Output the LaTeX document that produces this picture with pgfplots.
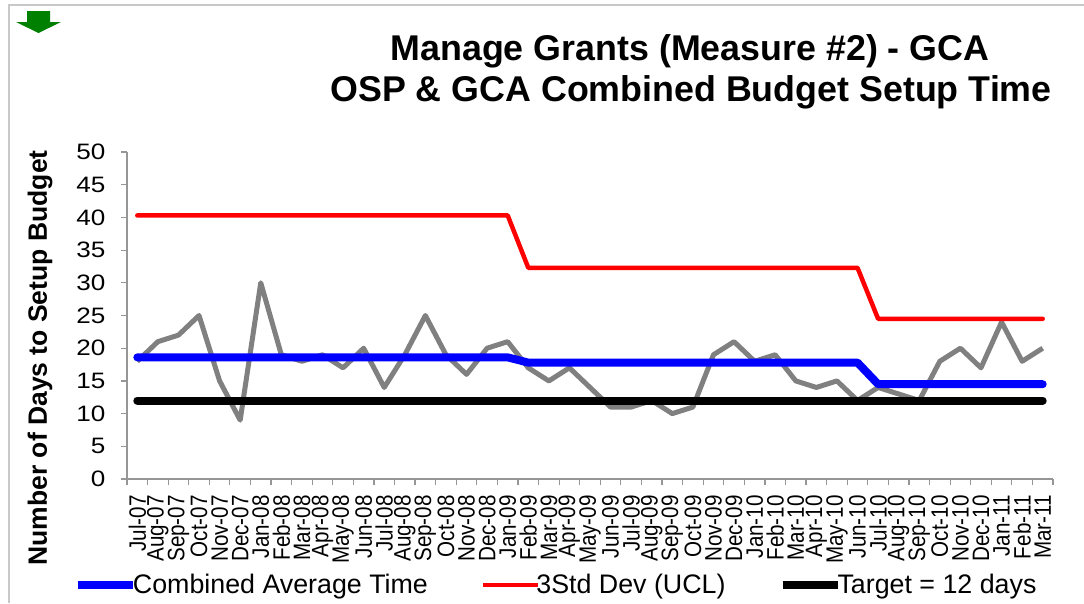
\documentclass[border=0pt]{standalone}
\usepackage{pgfplots}
\pgfplotsset{compat=1.18}
\usepackage{pgfplotstable}
\usepackage{fontspec}
\setmainfont{Liberation Sans}
\newfontfamily\ytickfont{Liberation Sans}[FakeStretch=1.17]
\newfontfamily\xtickfont{Liberation Sans}[FakeStretch=0.87]
\definecolor{cgray}{RGB}{128,128,128}
\definecolor{cgreen}{RGB}{0,128,0}
\definecolor{caxis}{RGB}{150,150,150}
\pgfplotstableread{
x g b r t
0 18 18.6 40.3 12
1 21 18.6 40.3 12
2 22 18.6 40.3 12
3 25 18.6 40.3 12
4 15 18.6 40.3 12
5 9 18.6 40.3 12
6 30 18.6 40.3 12
7 19 18.6 40.3 12
8 18 18.6 40.3 12
9 19 18.6 40.3 12
10 17 18.6 40.3 12
11 20 18.6 40.3 12
12 14 18.6 40.3 12
13 19 18.6 40.3 12
14 25 18.6 40.3 12
15 19 18.6 40.3 12
16 16 18.6 40.3 12
17 20 18.6 40.3 12
18 21 18.6 40.3 12
19 17 17.8 32.3 12
20 15 17.8 32.3 12
21 17 17.8 32.3 12
22 14 17.8 32.3 12
23 11 17.8 32.3 12
24 11 17.8 32.3 12
25 12 17.8 32.3 12
26 10 17.8 32.3 12
27 11 17.8 32.3 12
28 19 17.8 32.3 12
29 21 17.8 32.3 12
30 18 17.8 32.3 12
31 19 17.8 32.3 12
32 15 17.8 32.3 12
33 14 17.8 32.3 12
34 15 17.8 32.3 12
35 12 17.8 32.3 12
36 14 14.5 24.5 12
37 13 14.5 24.5 12
38 12 14.5 24.5 12
39 18 14.5 24.5 12
40 20 14.5 24.5 12
41 17 14.5 24.5 12
42 24 14.5 24.5 12
43 18 14.5 24.5 12
44 20 14.5 24.5 12
}\data
\begin{document}
\begin{tikzpicture}
\useasboundingbox (0pt,0pt) rectangle (1084pt,-603pt);
\draw[color={rgb,255:red,200;green,200;blue,200}, line width=1.5pt] (9pt,-603pt) -- (9pt,-5pt) -- (1084pt,-5pt);
\fill[cgreen] (27pt,-11pt) -- (50pt,-11pt) -- (50pt,-22pt) -- (61pt,-22pt) -- (38.5pt,-33pt) -- (16pt,-22pt) -- (27pt,-22pt) -- cycle;
\node[anchor=base, font=\fontsize{35.8}{40}\selectfont\bfseries] at (690pt,-60pt) {Manage Grants (Measure \#2) - GCA};
\node[anchor=base, font=\fontsize{35.8}{40}\selectfont\bfseries] at (691pt,-101pt) {OSP \& GCA Combined Budget Setup Time};
\node[rotate=90, font=\fontsize{26.5}{30}\selectfont\bfseries] at (40pt,-358pt) {Number of Days to Setup Budget};
\begin{axis}[
  at={(127pt,-479pt)}, anchor=south west,
  scale only axis, width=926pt, height=327pt,
  xmin=-0.5, xmax=44.5, ymin=0, ymax=50,
  axis x line*=bottom, axis y line*=left,
  axis line style={caxis, line width=1.2pt, -},
  every tick/.style={caxis, line width=1.2pt},
  tick align=outside,
  major tick length=6pt,
  ytick={0,5,...,50},
  yticklabel style={font=\ytickfont\fontsize{22.3}{26}\selectfont, xshift=-12pt},
  /pgf/number format/assume math mode=true,
  xtick={-0.5,0.5,...,44.5},
  xticklabels={},
  extra x ticks={0,1,...,44},
  extra x tick style={major tick length=0pt},
  extra x tick labels={Jul-07,Aug-07,Sep-07,Oct-07,Nov-07,Dec-07,Jan-08,Feb-08,Mar-08,Apr-08,May-08,Jun-08,Jul-08,Aug-08,Sep-08,Oct-08,Nov-08,Dec-08,Jan-09,Feb-09,Mar-09,Apr-09,May-09,Jun-09,Jul-09,Aug-09,Sep-09,Oct-09,Nov-09,Dec-09,Jan-10,Feb-10,Mar-10,Apr-10,May-10,Jun-10,Jul-10,Aug-10,Sep-10,Oct-10,Nov-10,Dec-10,Jan-11,Feb-11,Mar-11},
  xticklabel style={rotate=90, anchor=east, font=\xtickfont\fontsize{23.7}{26}\selectfont, xshift=-16pt, inner sep=0pt},
  legend columns=3,
  legend style={draw=none, fill=none, at={(-0.0575,-0.324)}, anchor=west, inner sep=0pt,
    font=\fontsize{26.8}{30}\selectfont,
    nodes={inner sep=1pt},
    /tikz/every odd column/.append style={column sep=-5pt},
    /tikz/every even column/.append style={column sep=52pt}},
  legend image code/.code={\draw[#1, line cap=butt] (0pt,0pt) -- (55pt,0pt);},
]
\addplot[cgray, line width=5pt, line join=round, forget plot] table[x=x,y=g] {\data};
\addplot[blue, line width=8pt, line join=round, line cap=round] table[x=x,y=b] {\data};
\addlegendentry{Combined Average Time}
\addplot[red, line width=4.5pt, line join=round, line cap=round] table[x=x,y=r] {\data};
\addlegendentry{3Std Dev (UCL)}
\addplot[black, line width=8pt, line cap=round] table[x=x,y=t] {\data};
\addlegendentry{Target = 12 days}
\end{axis}
\end{tikzpicture}
\end{document}
